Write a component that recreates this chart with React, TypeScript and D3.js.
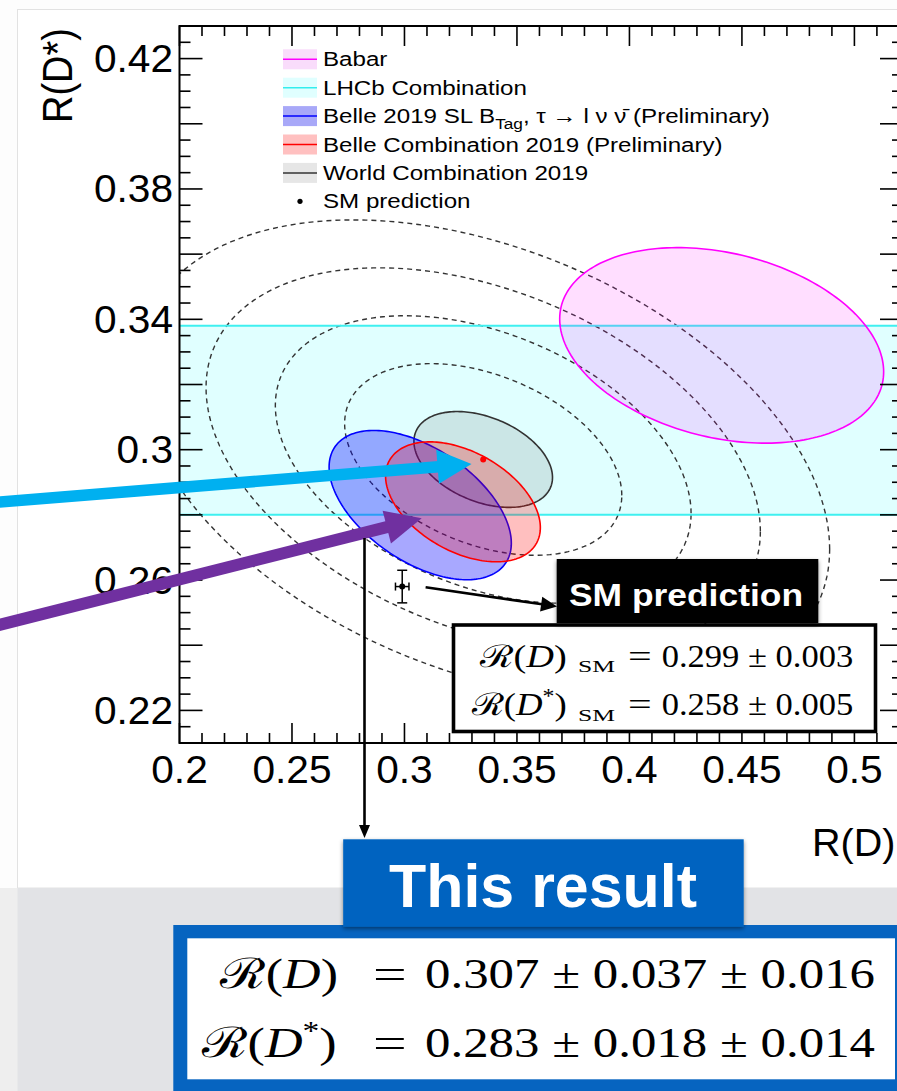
import React from "react";
import * as d3 from "d3";

// ---------- axes ----------
const xDomain = [0.2, 0.5216];
const yDomain = [0.21, 0.43];
const xTickValues = [0.2, 0.25, 0.3, 0.35, 0.4, 0.45, 0.5];
const xTickLabels = ["0.2", "0.25", "0.3", "0.35", "0.4", "0.45", "0.5"];
const yTickValues = [0.22, 0.26, 0.3, 0.34, 0.38, 0.42];
const yTickLabels = ["0.22", "0.26", "0.3", "0.34", "0.38", "0.42"];

// ---------- measurements (1 sigma ellipses) ----------
const measNames = ["Babar", "Belle 2019 SL", "Belle Combination 2019", "World Combination 2019"];
const measRD = [0.441, 0.307, 0.326, 0.335];
const measRDs = [0.332, 0.283, 0.284, 0.297];
const measSigRD = [0.072, 0.0405, 0.0344, 0.0308];
const measSigRDs = [0.030, 0.0229, 0.0184, 0.0147];
const measCorr = [-0.27, -0.51, -0.43, -0.375];
const measStroke = ["#ff00ff", "#0000ff", "#ff0000", "#333333"];
const measFill = ["rgba(255,0,255,0.13)", "rgba(0,0,255,0.34)", "rgba(255,0,0,0.25)", "rgba(90,90,90,0.15)"];

// LHCb combination band in R(D*)
const lhcbRDs = 0.309;
const lhcbSig = 0.029;

// dashed contours around world average (multiples of 1 sigma ellipse)
const contourScales = [2, 3, 4, 5];

// SM prediction
const smRD = 0.299;
const smRDErr = 0.003;
const smRDs = 0.258;
const smRDsErr = 0.005;

// legend
const legendLabels = ["Babar", "LHCb Combination", "BELLE_SL", "Belle Combination 2019 (Preliminary)", "World Combination 2019", "SM prediction"];
const legendFill = ["#f9dcfb", "#e0ffff", "#a8a8f8", "#ffc0c0", "#e6e6e6", "none"];
const legendLine = ["#ff00ff", "#33eeee", "#0000ff", "#ff0000", "#333333", "none"];

const W = 897;
const H = 1091;
const PL = 179.5, PR = 903, PT = 26, PB = 743;

const x = d3.scaleLinear().domain(xDomain).range([PL, PR]);
const y = d3.scaleLinear().domain(yDomain).range([PB, PT]);

const SANS = "'Liberation Sans', Arial, Helvetica, sans-serif";
const SERIF = "'Liberation Serif', 'DejaVu Serif', serif";

function ellipsePath(cx: number, cy: number, sx: number, sy: number, rho: number, k: number) {
  const n = 200;
  const pts: [number, number][] = d3.range(n).map((i) => {
    const t = (2 * Math.PI * i) / n;
    return [
      cx + k * sx * Math.cos(t),
      cy + k * sy * (rho * Math.cos(t) + Math.sqrt(1 - rho * rho) * Math.sin(t)),
    ];
  });
  return d3
    .line<[number, number]>()
    .x((d) => x(d[0]))
    .y((d) => y(d[1]))
    .curve(d3.curveLinearClosed)(pts) as string;
}

function ST(props: any) {
  const { x: tx, y: ty, sx = 1.1, anchor = "start", size, weight = "normal", fill = "#000", family = SANS, children, rotate } = props;
  const tr = `translate(${tx},${ty}) scale(${sx},1)` + (rotate ? ` rotate(${rotate})` : "");
  return (
    <text transform={tr} textAnchor={anchor} fontSize={size} fontWeight={weight} fill={fill} fontFamily={family}>
      {children}
    </text>
  );
}

function Arrow({ x1, y1, x2, y2, width, headLen, headHalf, color }: any) {
  const dx = x2 - x1, dy = y2 - y1;
  const L = Math.sqrt(dx * dx + dy * dy);
  const ux = dx / L, uy = dy / L;
  const px = -uy, py = ux;
  const bx = x2 - ux * headLen, by = y2 - uy * headLen;
  const head = `${x2},${y2} ${bx + px * headHalf},${by + py * headHalf} ${bx - px * headHalf},${by - py * headHalf}`;
  return (
    <g>
      <line x1={x1} y1={y1} x2={bx + ux * 1} y2={by + uy * 1} stroke={color} strokeWidth={width} />
      <polygon points={head} fill={color} />
    </g>
  );
}

function MathSeg({ x: mx, y: my, w, size, children, italic }: any) {
  return (
    <text x={mx} y={my} fontSize={size} fontFamily={SERIF} textLength={w} lengthAdjust="spacingAndGlyphs" fontStyle={italic ? "italic" : "normal"} fill="#000">
      {children}
    </text>
  );
}

export default function App() {
  const xMinor = d3.range(20, 53).map((i) => ({ v: i / 100, major: i % 5 === 0 }));
  const yMinor = d3.range(42, 87).map((i) => ({ v: i / 200, major: i % 4 === 0 }));
  const blue = "#0664c0";

  return (
    <svg width={W} height={H} style={{ position: "absolute", left: 0, top: 0, background: "#fff" }}>
      <defs>
        <clipPath id="plot">
          <rect x={PL} y={PT} width={PR - PL} height={PB - PT} />
        </clipPath>
        <filter id="sh" x="-10%" y="-10%" width="120%" height="140%">
          <feDropShadow dx="0" dy="2" stdDeviation="2" floodColor="#000" floodOpacity="0.45" />
        </filter>
      </defs>

      {/* slide background */}
      <rect x={0} y={0} width={W} height={H} fill="#fdfdfd" />
      <rect x={17.5} y={9.5} width={W} height={878.5} fill="#fff" stroke="#e2e2e2" strokeWidth={1} />
      <rect x={0} y={888} width={W} height={H - 888} fill="#eeeeee" />
      <rect x={17.5} y={888} width={W} height={H - 888} fill="#e2e3e6" />

      {/* plot contents */}
      <g clipPath="url(#plot)">
        <rect x={PL} y={y(lhcbRDs + lhcbSig)} width={PR - PL} height={y(lhcbRDs - lhcbSig) - y(lhcbRDs + lhcbSig)} fill="#e0ffff" />
        {contourScales.map((k) => (
          <path key={k} d={ellipsePath(measRD[3], measRDs[3], measSigRD[3], measSigRDs[3], measCorr[3], k)} fill="none" stroke="#333" strokeWidth={1.4} strokeDasharray="5 4" />
        ))}
        <line x1={PL} x2={PR} y1={y(lhcbRDs + lhcbSig)} y2={y(lhcbRDs + lhcbSig)} stroke="#3ff0f0" strokeWidth={2} />
        <line x1={PL} x2={PR} y1={y(lhcbRDs - lhcbSig)} y2={y(lhcbRDs - lhcbSig)} stroke="#3ff0f0" strokeWidth={2} />
        {[0, 3, 1, 2].map((i) => (
          <path key={measNames[i]} d={ellipsePath(measRD[i], measRDs[i], measSigRD[i], measSigRDs[i], measCorr[i], 1)} fill={measFill[i]} stroke={measStroke[i]} strokeWidth={1.6} />
        ))}
        <circle cx={x(measRD[3])} cy={y(measRDs[3])} r={3} fill="#ff0000" />
        {/* SM point */}
        <g stroke="#000" strokeWidth={1.5}>
          <line x1={x(smRD - smRDErr)} x2={x(smRD + smRDErr)} y1={y(smRDs)} y2={y(smRDs)} />
          <line x1={x(smRD)} x2={x(smRD)} y1={y(smRDs - smRDsErr)} y2={y(smRDs + smRDsErr)} />
          <line x1={x(smRD) - 5} x2={x(smRD) + 5} y1={y(smRDs - smRDsErr)} y2={y(smRDs - smRDsErr)} />
          <line x1={x(smRD) - 5} x2={x(smRD) + 5} y1={y(smRDs + smRDsErr)} y2={y(smRDs + smRDsErr)} />
          <line x1={x(smRD - smRDErr)} x2={x(smRD - smRDErr)} y1={y(smRDs) - 4} y2={y(smRDs) + 4} />
          <line x1={x(smRD + smRDErr)} x2={x(smRD + smRDErr)} y1={y(smRDs) - 4} y2={y(smRDs) + 4} />
        </g>
        <circle cx={x(smRD)} cy={y(smRDs)} r={3} fill="#000" />
      </g>

      {/* frame & ticks */}
      <rect x={PL} y={PT} width={PR - PL} height={PB - PT} fill="none" stroke="#000" strokeWidth={2} />
      <g stroke="#000" strokeWidth={1.6}>
        {xMinor.map((t) => (
          <g key={"x" + t.v}>
            <line x1={x(t.v)} x2={x(t.v)} y1={PB} y2={PB - (t.major ? 20 : 10)} />
            <line x1={x(t.v)} x2={x(t.v)} y1={PT} y2={PT + (t.major ? 20 : 10)} />
          </g>
        ))}
        {yMinor.map((t) => (
          <g key={"y" + t.v}>
            <line x1={PL} x2={PL + (t.major ? 23 : 11)} y1={y(t.v)} y2={y(t.v)} />
            <line x1={PR} x2={PR - (t.major ? 23 : 11)} y1={y(t.v)} y2={y(t.v)} />
          </g>
        ))}
      </g>
      {xTickValues.map((v, i) => (
        <ST key={"xl" + v} x={x(v)} y={783} size={38} sx={1.07} anchor="middle">{xTickLabels[i]}</ST>
      ))}
      {yTickValues.map((v, i) => (
        <ST key={"yl" + v} x={173} y={y(v) + 13.5} size={38} sx={1.07} anchor="end">{yTickLabels[i]}</ST>
      ))}
      <ST x={72} y={28} size={38} sx={1.1} anchor="end" rotate={-90}>R(D*)</ST>
      <ST x={812} y={856} size={38} sx={1.04}>R(D)</ST>

      {/* legend */}
      {legendLabels.map((lab, i) => {
        const cy = 59.3 + i * 28.4;
        return (
          <g key={lab}>
            {legendFill[i] !== "none" && (
              <g>
                <rect x={283} y={cy - 10} width={34} height={20} fill={legendFill[i]} />
                <line x1={283} x2={317} y1={cy} y2={cy} stroke={legendLine[i]} strokeWidth={1.5} />
              </g>
            )}
            {legendFill[i] === "none" && <circle cx={300} cy={cy} r={2.6} fill="#000" />}
            {lab === "BELLE_SL" ? (
              <text transform={`translate(323,${cy + 7}) scale(1.15,1)`} fontSize={21} fontFamily={SANS} fill="#000">
                Belle 2019 SL B
                <tspan fontSize={15} dy={6}>Tag</tspan>
                <tspan dy={-6}>, τ → l ν ν̄ (Preliminary)</tspan>
              </text>
            ) : (
              <ST x={323} y={cy + 7} size={21} sx={1.15}>{lab}</ST>
            )}
          </g>
        );
      })}

      {/* annotation arrows */}
      <Arrow x1={-5} y1={502.4} x2={471.5} y2={464} width={11.5} headLen={34} headHalf={17} color="#00b0f0" />
      <Arrow x1={-5} y1={626} x2={421.7} y2={518.3} width={12} headLen={36} headHalf={17} color="#7030a0" />
      <Arrow x1={425.6} y1={587.3} x2={557} y2={606.5} width={2.6} headLen={16} headHalf={7.5} color="#000" />
      <Arrow x1={364.5} y1={538} x2={364.5} y2={838} width={2.6} headLen={13} headHalf={5.5} color="#000" />

      {/* SM prediction box */}
      <rect x={453.5} y={625} width={422} height={106.5} fill="#fff" stroke="#000" strokeWidth={3.6} />
      <rect x={556.7} y={559} width={261.6} height={64} fill="#000" filter="url(#sh)" />
      <text x={569} y={605.5} fontSize={32} fontWeight="bold" fontFamily={SANS} fill="#fff" textLength={234} lengthAdjust="spacingAndGlyphs">SM prediction</text>

      <MathSeg x={480} y={666.7} w={86.7} size={31}>ℛ(<tspan fontStyle="italic">D</tspan>)</MathSeg>
      <MathSeg x={578} y={672} w={37} size={17}>SM</MathSeg>
      <MathSeg x={628} y={666.7} w={23.7} size={31}>=</MathSeg>
      <MathSeg x={661.7} y={666.7} w={191.6} size={31}>0.299 ± 0.003</MathSeg>
      <MathSeg x={471.7} y={715} w={95} size={31}>ℛ(<tspan fontStyle="italic">D</tspan><tspan fontSize={20} dy={-12}>*</tspan><tspan dy={12}>)</tspan></MathSeg>
      <MathSeg x={578} y={720.5} w={37} size={17}>SM</MathSeg>
      <MathSeg x={628} y={715} w={23.7} size={31}>=</MathSeg>
      <MathSeg x={661.7} y={715} w={191.6} size={31}>0.258 ± 0.005</MathSeg>

      {/* This result box */}
      <rect x={173.3} y={925} width={740} height={180} fill={blue} />
      <rect x={187.3} y={938.3} width={707.7} height={141} fill="#fff" />
      <rect x={343.2} y={839.3} width={400.5} height={87.4} fill={blue} filter="url(#sh)" />
      <text x={389} y={906.5} fontSize={61} fontWeight="bold" fontFamily={SANS} fill="#fff" textLength={308} lengthAdjust="spacingAndGlyphs">This result</text>

      <MathSeg x={220} y={988.3} w={118} size={42}>ℛ(<tspan fontStyle="italic">D</tspan>)</MathSeg>
      <MathSeg x={373} y={988.3} w={33.7} size={42}>=</MathSeg>
      <MathSeg x={425} y={988.3} w={450} size={42}>0.307 ± 0.037 ± 0.016</MathSeg>
      <MathSeg x={201.7} y={1056.7} w={135} size={42}>ℛ(<tspan fontStyle="italic">D</tspan><tspan fontSize={27} dy={-17}>*</tspan><tspan dy={17}>)</tspan></MathSeg>
      <MathSeg x={373} y={1056.7} w={33.7} size={42}>=</MathSeg>
      <MathSeg x={425} y={1056.7} w={450} size={42}>0.283 ± 0.018 ± 0.014</MathSeg>
    </svg>
  );
}
